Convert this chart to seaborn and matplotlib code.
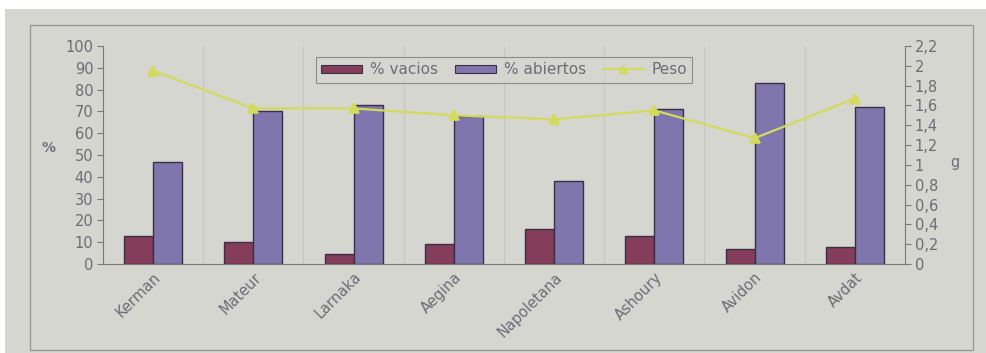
import matplotlib
matplotlib.use("Agg")
import matplotlib.pyplot as plt
from matplotlib.patches import Patch, Rectangle
from matplotlib.lines import Line2D
from matplotlib.ticker import FixedLocator, FuncFormatter
import numpy as np
import pandas as pd
import seaborn as sns

# Pistachio cultivars: empty / split nuts (%) and nut weight (g)
cultivares = ["Kerman", "Mateur", "Larnaka", "Aegina",
              "Napoletana", "Ashoury", "Avidon", "Avdat"]
vacios = [13, 10, 4.5, 9, 16, 13, 7, 8]
abiertos = [47, 70, 73, 68, 38, 71, 83, 72]
peso = [1.95, 1.57, 1.57, 1.50, 1.46, 1.55, 1.27, 1.67]

serie_labels = ["% vacios", "% abiertos"]

BG = "#d6d6d0"
TXT = "#6c6c78"
C_VAC = "#853d5c"
C_ABI = "#7e76ad"
C_EDGE = "#3b2f46"
C_PESO = "#d4da5c"

sns.set_theme(style="white")
plt.rcParams["font.family"] = ["DejaVu Sans"]

df = pd.DataFrame({
    "cultivar": cultivares * 2,
    "serie": [serie_labels[0]] * len(cultivares) + [serie_labels[1]] * len(cultivares),
    "valor": vacios + abiertos,
})
df_peso = pd.DataFrame({"cultivar": cultivares, "peso": peso})

fig = plt.figure(figsize=(9.87, 3.53), dpi=100, facecolor="white")
# page area
fig.patches.append(Rectangle((5 / 987, 0), 1, 1 - 9 / 353, transform=fig.transFigure,
                             facecolor=BG, edgecolor="none", zorder=-5))
# chart frame
fig.patches.append(Rectangle((30 / 987, 1 - 350 / 353), (973 - 30) / 987, (350 - 25) / 353,
                             transform=fig.transFigure, fill=False,
                             edgecolor="#959595", linewidth=0.9, zorder=-4))

ax = fig.add_axes([103 / 987, 1 - 264 / 353, (905 - 103) / 987, (264 - 46) / 353])
ax.set_facecolor("none")

sns.barplot(data=df, x="cultivar", y="valor", hue="serie",
            palette=[C_VAC, C_ABI], width=0.58, gap=0,
            edgecolor=C_EDGE, linewidth=1.0, saturation=1,
            legend=False, ax=ax, zorder=3)

ax.set_ylim(0, 100)
ax.set_xlim(-0.5, len(cultivares) - 0.5)
ax.set_yticks(np.arange(0, 101, 10))
ax.set_xlabel("")
ax.set_ylabel("%", rotation=0, fontsize=10, color=TXT, fontweight="bold")
ax.yaxis.set_label_coords(-0.068, 0.5)

# category separators: tick marks and faint vertical grid
ax.xaxis.set_minor_locator(FixedLocator(np.arange(0.5, len(cultivares) - 0.5, 1)))
ax.grid(which="minor", axis="x", color="#c6c6c0", linewidth=0.8, zorder=0)
ax.grid(which="major", visible=False)
ax.tick_params(axis="x", which="major", length=0, pad=4)
ax.tick_params(axis="x", which="minor", length=4, width=0.8, color="#7a7a7a", direction="out")
ax.tick_params(axis="y", length=4, width=0.8, color="#7a7a7a", direction="out",
               labelsize=10.5, labelcolor=TXT, pad=3, left=True)
for lab in ax.get_xticklabels():
    lab.set_rotation(45)
    lab.set_ha("right")
    lab.set_rotation_mode("anchor")
    lab.set_fontsize(10.5)
    lab.set_color(TXT)

for side in ["top", "right"]:
    ax.spines[side].set_visible(False)
for side in ["left", "bottom"]:
    ax.spines[side].set_color("#7a7a7a")
    ax.spines[side].set_linewidth(0.8)

# secondary axis: weight
ax2 = ax.twinx()
sns.pointplot(data=df_peso, x="cultivar", y="peso", ax=ax2, color=C_PESO,
              markers="^", markersize=7, linewidth=1.6, errorbar=None, zorder=4)
ax2.set_ylim(0, 2.2)
ax2.set_xlim(-0.5, len(cultivares) - 0.5)
ax2.set_yticks(np.round(np.arange(0, 2.21, 0.2), 1))
ax2.yaxis.set_major_formatter(FuncFormatter(
    lambda v, p: ("%g" % round(v, 1)).replace(".", ",")))
ax2.set_ylabel("g", rotation=0, fontsize=10.5, color=TXT)
ax2.yaxis.set_label_coords(1.062, 0.5)
ax2.set_xlabel("")
ax2.tick_params(axis="y", length=4, width=0.8, color="#7a7a7a", direction="out",
                labelsize=10.5, labelcolor=TXT, pad=3, right=True)
for side in ["top", "left", "bottom"]:
    ax2.spines[side].set_visible(False)
ax2.spines["right"].set_color("#7a7a7a")
ax2.spines["right"].set_linewidth(0.8)
ax2.grid(False)

handles = [
    Patch(facecolor=C_VAC, edgecolor=C_EDGE, linewidth=0.8, label=serie_labels[0]),
    Patch(facecolor=C_ABI, edgecolor=C_EDGE, linewidth=0.8, label=serie_labels[1]),
    Line2D([], [], color=C_PESO, marker="^", markersize=6, linewidth=1.6, label="Peso"),
]
leg = ax2.legend(handles=handles, loc="upper center", bbox_to_anchor=(0.5, 0.985),
                 ncol=3, fontsize=11, frameon=True, fancybox=False,
                 handlelength=2.7, handleheight=0.45, handletextpad=0.5,
                 columnspacing=1.1, borderpad=0.35, labelcolor=TXT)
leg.get_frame().set_edgecolor("#7a7a7a")
leg.get_frame().set_facecolor(BG)
leg.get_frame().set_linewidth(0.8)

fig.savefig("out.png", dpi=100, facecolor=fig.get_facecolor())
